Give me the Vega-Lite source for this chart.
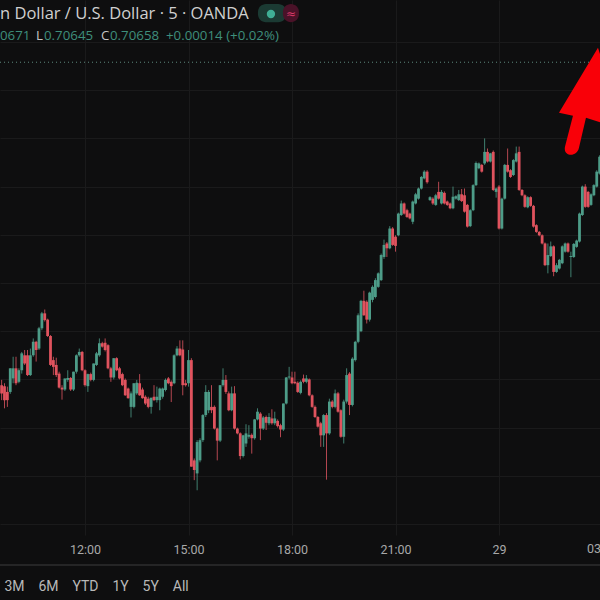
{"$schema":"https://vega.github.io/schema/vega-lite/v6.json","width":600,"height":535,"autosize":"none","padding":{"left":0,"top":0,"right":0,"bottom":65},"background":"#0e0e0f","config":{"view":{"stroke":null}},
"datasets":{"candles":[
{"t":575,"o":0.69988,"h":0.69999,"l":0.69957,"c":0.69971},{"t":580,"o":0.69986,"h":0.69992,"l":0.69940,"c":0.69957},{"t":585,"o":0.69974,"h":0.69985,"l":0.69943,"c":0.69957},{"t":590,"o":0.69974,"h":0.70023,"l":0.69970,"c":0.70023},{"t":595,"o":0.70002,"h":0.70047,"l":0.69992,"c":0.70023},{"t":600,"o":0.70023,"h":0.70047,"l":0.69988,"c":0.69992},{"t":605,"o":0.69995,"h":0.70023,"l":0.69992,"c":0.70019},{"t":610,"o":0.70019,"h":0.70057,"l":0.70012,"c":0.70054},{"t":615,"o":0.70050,"h":0.70061,"l":0.70030,"c":0.70033},{"t":620,"o":0.70050,"h":0.70061,"l":0.70007,"c":0.70009},{"t":625,"o":0.70009,"h":0.70064,"l":0.70007,"c":0.70050},{"t":630,"o":0.70050,"h":0.70085,"l":0.70047,"c":0.70078},{"t":635,"o":0.70078,"h":0.70080,"l":0.70037,"c":0.70061},{"t":640,"o":0.70064,"h":0.70109,"l":0.70061,"c":0.70106},{"t":645,"o":0.70106,"h":0.70140,"l":0.70102,"c":0.70137},{"t":650,"o":0.70137,"h":0.70145,"l":0.70120,"c":0.70123},{"t":655,"o":0.70124,"h":0.70126,"l":0.70088,"c":0.70090},{"t":660,"o":0.70090,"h":0.70092,"l":0.70028,"c":0.70030},{"t":665,"o":0.70040,"h":0.70047,"l":0.70009,"c":0.70026},{"t":670,"o":0.70030,"h":0.70045,"l":0.70005,"c":0.70009},{"t":675,"o":0.70012,"h":0.70016,"l":0.69981,"c":0.69983},{"t":680,"o":0.69983,"h":0.69988,"l":0.69958,"c":0.69979},{"t":685,"o":0.69979,"h":0.70002,"l":0.69976,"c":0.70002},{"t":690,"o":0.69999,"h":0.70019,"l":0.69995,"c":0.70003},{"t":695,"o":0.70003,"h":0.70005,"l":0.69976,"c":0.69979},{"t":700,"o":0.69979,"h":0.70016,"l":0.69976,"c":0.70016},{"t":705,"o":0.70016,"h":0.70052,"l":0.70012,"c":0.70050},{"t":710,"o":0.70050,"h":0.70064,"l":0.70047,"c":0.70057},{"t":715,"o":0.70057,"h":0.70059,"l":0.70017,"c":0.70019},{"t":720,"o":0.70019,"h":0.70021,"l":0.69985,"c":0.69988},
{"t":725,"o":0.69986,"h":0.70012,"l":0.69974,"c":0.70011},{"t":730,"o":0.70011,"h":0.70014,"l":0.69996,"c":0.69999},{"t":735,"o":0.69999,"h":0.70033,"l":0.69996,"c":0.70033},{"t":740,"o":0.70030,"h":0.70057,"l":0.70028,"c":0.70054},{"t":745,"o":0.70050,"h":0.70085,"l":0.70047,"c":0.70075},{"t":750,"o":0.70075,"h":0.70078,"l":0.70066,"c":0.70068},{"t":755,"o":0.70076,"h":0.70085,"l":0.70058,"c":0.70061},{"t":760,"o":0.70071,"h":0.70073,"l":0.70021,"c":0.70023},{"t":765,"o":0.70023,"h":0.70026,"l":0.69995,"c":0.70004},{"t":770,"o":0.70004,"h":0.70044,"l":0.70000,"c":0.70044},{"t":775,"o":0.70044,"h":0.70046,"l":0.70017,"c":0.70019},{"t":780,"o":0.70023,"h":0.70026,"l":0.70000,"c":0.70002},{"t":785,"o":0.70011,"h":0.70014,"l":0.69986,"c":0.69988},{"t":790,"o":0.69999,"h":0.70002,"l":0.69966,"c":0.69967},{"t":795,"o":0.69981,"h":0.69983,"l":0.69960,"c":0.69961},{"t":800,"o":0.69943,"h":0.69975,"l":0.69921,"c":0.69971},{"t":805,"o":0.69943,"h":0.69992,"l":0.69940,"c":0.69992},{"t":810,"o":0.69971,"h":0.69999,"l":0.69968,"c":0.69993},{"t":815,"o":0.69992,"h":0.70011,"l":0.69966,"c":0.69967},{"t":820,"o":0.69979,"h":0.69983,"l":0.69960,"c":0.69961},{"t":825,"o":0.69964,"h":0.69967,"l":0.69947,"c":0.69950},{"t":830,"o":0.69960,"h":0.69964,"l":0.69940,"c":0.69943},{"t":835,"o":0.69943,"h":0.69962,"l":0.69929,"c":0.69962},{"t":840,"o":0.69964,"h":0.69988,"l":0.69955,"c":0.69957},{"t":845,"o":0.69957,"h":0.69985,"l":0.69952,"c":0.69964},{"t":850,"o":0.69957,"h":0.69983,"l":0.69936,"c":0.69981},{"t":855,"o":0.69964,"h":0.69983,"l":0.69960,"c":0.69981},{"t":860,"o":0.69978,"h":0.70002,"l":0.69975,"c":0.69999},{"t":865,"o":0.70002,"h":0.70005,"l":0.69990,"c":0.69992},{"t":870,"o":0.69995,"h":0.69998,"l":0.69953,"c":0.69986},
{"t":875,"o":0.69992,"h":0.70052,"l":0.69990,"c":0.70050},{"t":880,"o":0.70050,"h":0.70069,"l":0.70048,"c":0.70064},{"t":885,"o":0.70064,"h":0.70081,"l":0.70048,"c":0.70050},{"t":890,"o":0.70062,"h":0.70081,"l":0.69967,"c":0.69988},{"t":895,"o":0.69992,"h":0.69999,"l":0.69985,"c":0.69988},{"t":900,"o":0.69992,"h":0.70061,"l":0.69985,"c":0.70040},{"t":905,"o":0.70040,"h":0.70044,"l":0.69819,"c":0.69819},{"t":910,"o":0.69832,"h":0.69836,"l":0.69791,"c":0.69812},{"t":915,"o":0.69805,"h":0.69874,"l":0.69770,"c":0.69870},{"t":920,"o":0.69832,"h":0.69878,"l":0.69828,"c":0.69874},{"t":925,"o":0.69874,"h":0.69928,"l":0.69870,"c":0.69926},{"t":930,"o":0.69926,"h":0.69988,"l":0.69922,"c":0.69974},{"t":935,"o":0.69936,"h":0.69978,"l":0.69930,"c":0.69974},{"t":940,"o":0.69943,"h":0.69988,"l":0.69930,"c":0.69936},{"t":945,"o":0.69943,"h":0.69946,"l":0.69896,"c":0.69898},{"t":950,"o":0.69898,"h":0.69900,"l":0.69832,"c":0.69873},{"t":955,"o":0.69873,"h":0.69988,"l":0.69870,"c":0.69988},{"t":960,"o":0.69988,"h":0.70023,"l":0.69985,"c":0.69999},{"t":965,"o":0.69999,"h":0.70009,"l":0.69970,"c":0.69974},{"t":970,"o":0.69971,"h":0.69975,"l":0.69934,"c":0.69936},{"t":975,"o":0.69936,"h":0.69985,"l":0.69934,"c":0.69971},{"t":980,"o":0.69971,"h":0.69986,"l":0.69896,"c":0.69898},{"t":985,"o":0.69898,"h":0.69900,"l":0.69886,"c":0.69888},{"t":990,"o":0.69888,"h":0.69890,"l":0.69834,"c":0.69841},{"t":995,"o":0.69841,"h":0.69885,"l":0.69838,"c":0.69884},{"t":1000,"o":0.69867,"h":0.69907,"l":0.69860,"c":0.69888},{"t":1005,"o":0.69881,"h":0.69905,"l":0.69877,"c":0.69885},{"t":1010,"o":0.69885,"h":0.69888,"l":0.69846,"c":0.69878},{"t":1015,"o":0.69878,"h":0.69918,"l":0.69875,"c":0.69917},{"t":1020,"o":0.69917,"h":0.69940,"l":0.69915,"c":0.69933},
{"t":1025,"o":0.69929,"h":0.69932,"l":0.69874,"c":0.69898},{"t":1030,"o":0.69898,"h":0.69924,"l":0.69895,"c":0.69921},{"t":1035,"o":0.69922,"h":0.69925,"l":0.69895,"c":0.69910},{"t":1040,"o":0.69909,"h":0.69930,"l":0.69905,"c":0.69922},{"t":1045,"o":0.69919,"h":0.69938,"l":0.69906,"c":0.69909},{"t":1050,"o":0.69909,"h":0.69933,"l":0.69905,"c":0.69919},{"t":1055,"o":0.69914,"h":0.69917,"l":0.69900,"c":0.69903},{"t":1060,"o":0.69905,"h":0.69908,"l":0.69880,"c":0.69896},{"t":1065,"o":0.69896,"h":0.69950,"l":0.69893,"c":0.69950},{"t":1070,"o":0.69950,"h":0.70005,"l":0.69948,"c":0.70004},{"t":1075,"o":0.70004,"h":0.70026,"l":0.70000,"c":0.70006},{"t":1080,"o":0.70004,"h":0.70016,"l":0.69990,"c":0.69992},{"t":1085,"o":0.69995,"h":0.70016,"l":0.69990,"c":0.69992},{"t":1090,"o":0.69993,"h":0.69996,"l":0.69972,"c":0.69974},{"t":1095,"o":0.69972,"h":0.69998,"l":0.69969,"c":0.69995},{"t":1100,"o":0.70002,"h":0.70010,"l":0.69992,"c":0.69995},{"t":1105,"o":0.69995,"h":0.70009,"l":0.69992,"c":0.70002},{"t":1110,"o":0.70000,"h":0.70002,"l":0.69965,"c":0.69967},{"t":1115,"o":0.69967,"h":0.69969,"l":0.69941,"c":0.69943},{"t":1120,"o":0.69943,"h":0.69946,"l":0.69920,"c":0.69922},{"t":1125,"o":0.69922,"h":0.69924,"l":0.69900,"c":0.69902},{"t":1130,"o":0.69909,"h":0.69912,"l":0.69860,"c":0.69884},{"t":1135,"o":0.69884,"h":0.69928,"l":0.69860,"c":0.69926},{"t":1140,"o":0.69926,"h":0.69930,"l":0.69792,"c":0.69888},{"t":1145,"o":0.69888,"h":0.69960,"l":0.69885,"c":0.69954},{"t":1150,"o":0.69954,"h":0.69957,"l":0.69940,"c":0.69943},{"t":1155,"o":0.69943,"h":0.69979,"l":0.69940,"c":0.69971},{"t":1160,"o":0.69971,"h":0.69974,"l":0.69931,"c":0.69933},{"t":1165,"o":0.69936,"h":0.69938,"l":0.69879,"c":0.69881},{"t":1170,"o":0.69881,"h":0.69958,"l":0.69867,"c":0.69954},
{"t":1175,"o":0.69954,"h":0.70023,"l":0.69950,"c":0.70009},{"t":1180,"o":0.70012,"h":0.70015,"l":0.69926,"c":0.69947},{"t":1185,"o":0.69947,"h":0.70046,"l":0.69944,"c":0.70043},{"t":1190,"o":0.70040,"h":0.70080,"l":0.70037,"c":0.70078},{"t":1195,"o":0.70078,"h":0.70137,"l":0.70075,"c":0.70133},{"t":1200,"o":0.70100,"h":0.70165,"l":0.70098,"c":0.70163},{"t":1205,"o":0.70163,"h":0.70184,"l":0.70132,"c":0.70133},{"t":1210,"o":0.70161,"h":0.70164,"l":0.70116,"c":0.70124},{"t":1215,"o":0.70124,"h":0.70182,"l":0.70120,"c":0.70180},{"t":1220,"o":0.70165,"h":0.70195,"l":0.70160,"c":0.70192},{"t":1225,"o":0.70171,"h":0.70210,"l":0.70168,"c":0.70206},{"t":1230,"o":0.70192,"h":0.70222,"l":0.70190,"c":0.70220},{"t":1235,"o":0.70206,"h":0.70261,"l":0.70204,"c":0.70258},{"t":1240,"o":0.70254,"h":0.70290,"l":0.70250,"c":0.70279},{"t":1245,"o":0.70282,"h":0.70285,"l":0.70254,"c":0.70272},{"t":1250,"o":0.70272,"h":0.70318,"l":0.70270,"c":0.70313},{"t":1255,"o":0.70313,"h":0.70316,"l":0.70277,"c":0.70279},{"t":1260,"o":0.70296,"h":0.70299,"l":0.70265,"c":0.70277},{"t":1265,"o":0.70299,"h":0.70346,"l":0.70297,"c":0.70344},{"t":1270,"o":0.70341,"h":0.70371,"l":0.70339,"c":0.70365},{"t":1275,"o":0.70365,"h":0.70367,"l":0.70342,"c":0.70344},{"t":1280,"o":0.70351,"h":0.70354,"l":0.70335,"c":0.70337},{"t":1285,"o":0.70344,"h":0.70346,"l":0.70332,"c":0.70334},{"t":1290,"o":0.70327,"h":0.70371,"l":0.70322,"c":0.70369},{"t":1295,"o":0.70365,"h":0.70387,"l":0.70363,"c":0.70384},{"t":1300,"o":0.70375,"h":0.70398,"l":0.70373,"c":0.70396},{"t":1305,"o":0.70396,"h":0.70422,"l":0.70394,"c":0.70420},{"t":1310,"o":0.70417,"h":0.70434,"l":0.70415,"c":0.70431},{"t":1315,"o":0.70431,"h":0.70434,"l":0.70406,"c":0.70409},{"t":1320,"o":0.70372,"h":0.70380,"l":0.70370,"c":0.70378},
{"t":1325,"o":0.70375,"h":0.70378,"l":0.70362,"c":0.70365},{"t":1330,"o":0.70362,"h":0.70385,"l":0.70360,"c":0.70382},{"t":1335,"o":0.70389,"h":0.70410,"l":0.70373,"c":0.70375},{"t":1340,"o":0.70365,"h":0.70393,"l":0.70363,"c":0.70389},{"t":1345,"o":0.70387,"h":0.70390,"l":0.70363,"c":0.70365},{"t":1350,"o":0.70369,"h":0.70371,"l":0.70360,"c":0.70362},{"t":1355,"o":0.70365,"h":0.70367,"l":0.70353,"c":0.70355},{"t":1360,"o":0.70355,"h":0.70400,"l":0.70353,"c":0.70379},{"t":1365,"o":0.70375,"h":0.70382,"l":0.70373,"c":0.70380},{"t":1370,"o":0.70372,"h":0.70393,"l":0.70370,"c":0.70384},{"t":1375,"o":0.70384,"h":0.70395,"l":0.70368,"c":0.70370},{"t":1380,"o":0.70382,"h":0.70396,"l":0.70346,"c":0.70348},{"t":1385,"o":0.70362,"h":0.70364,"l":0.70315,"c":0.70317},{"t":1390,"o":0.70318,"h":0.70353,"l":0.70316,"c":0.70351},{"t":1395,"o":0.70351,"h":0.70405,"l":0.70349,"c":0.70403},{"t":1400,"o":0.70403,"h":0.70452,"l":0.70401,"c":0.70449},{"t":1405,"o":0.70438,"h":0.70450,"l":0.70436,"c":0.70448},{"t":1410,"o":0.70445,"h":0.70447,"l":0.70429,"c":0.70431},{"t":1415,"o":0.70448,"h":0.70500,"l":0.70445,"c":0.70472},{"t":1420,"o":0.70472,"h":0.70479,"l":0.70450,"c":0.70452},{"t":1425,"o":0.70452,"h":0.70470,"l":0.70450,"c":0.70469},{"t":1430,"o":0.70472,"h":0.70475,"l":0.70391,"c":0.70393},{"t":1435,"o":0.70389,"h":0.70398,"l":0.70377,"c":0.70396},{"t":1440,"o":0.70400,"h":0.70403,"l":0.70311,"c":0.70313},{"t":1445,"o":0.70313,"h":0.70377,"l":0.70311,"c":0.70375},{"t":1450,"o":0.70375,"h":0.70447,"l":0.70373,"c":0.70445},{"t":1455,"o":0.70445,"h":0.70479,"l":0.70429,"c":0.70431},{"t":1460,"o":0.70434,"h":0.70436,"l":0.70418,"c":0.70420},{"t":1465,"o":0.70424,"h":0.70457,"l":0.70422,"c":0.70455},{"t":1470,"o":0.70452,"h":0.70483,"l":0.70450,"c":0.70469},
{"t":1475,"o":0.70472,"h":0.70483,"l":0.70391,"c":0.70393},{"t":1480,"o":0.70393,"h":0.70395,"l":0.70380,"c":0.70382},{"t":1485,"o":0.70382,"h":0.70384,"l":0.70356,"c":0.70358},{"t":1490,"o":0.70357,"h":0.70380,"l":0.70355,"c":0.70378},{"t":1495,"o":0.70378,"h":0.70380,"l":0.70358,"c":0.70360},{"t":1500,"o":0.70360,"h":0.70362,"l":0.70315,"c":0.70317},{"t":1505,"o":0.70320,"h":0.70322,"l":0.70304,"c":0.70306},{"t":1510,"o":0.70306,"h":0.70308,"l":0.70297,"c":0.70299},{"t":1515,"o":0.70299,"h":0.70301,"l":0.70280,"c":0.70282},{"t":1520,"o":0.70282,"h":0.70284,"l":0.70235,"c":0.70237},{"t":1525,"o":0.70237,"h":0.70282,"l":0.70220,"c":0.70258},{"t":1530,"o":0.70256,"h":0.70286,"l":0.70254,"c":0.70276},{"t":1535,"o":0.70276,"h":0.70278,"l":0.70214,"c":0.70223},{"t":1540,"o":0.70223,"h":0.70241,"l":0.70221,"c":0.70237},{"t":1545,"o":0.70230,"h":0.70250,"l":0.70228,"c":0.70248},{"t":1550,"o":0.70241,"h":0.70278,"l":0.70239,"c":0.70276},{"t":1555,"o":0.70265,"h":0.70284,"l":0.70263,"c":0.70282},{"t":1560,"o":0.70282,"h":0.70284,"l":0.70263,"c":0.70265},{"t":1565,"o":0.70254,"h":0.70265,"l":0.70212,"c":0.70256},{"t":1570,"o":0.70254,"h":0.70283,"l":0.70252,"c":0.70281},{"t":1575,"o":0.70275,"h":0.70290,"l":0.70273,"c":0.70288},{"t":1580,"o":0.70286,"h":0.70346,"l":0.70284,"c":0.70344},{"t":1585,"o":0.70341,"h":0.70402,"l":0.70339,"c":0.70400},{"t":1590,"o":0.70400,"h":0.70405,"l":0.70356,"c":0.70358},{"t":1595,"o":0.70389,"h":0.70391,"l":0.70356,"c":0.70358},{"t":1600,"o":0.70362,"h":0.70386,"l":0.70360,"c":0.70384},{"t":1605,"o":0.70382,"h":0.70405,"l":0.70380,"c":0.70403},{"t":1610,"o":0.70400,"h":0.70434,"l":0.70398,"c":0.70431},{"t":1615,"o":0.70427,"h":0.70465,"l":0.70425,"c":0.70462}
]},
"data":{"name":"candles"},
"layer":[
{"mark":{"type":"rule","opacity":0},"encoding":{"x":{"field":"t","type":"quantitative","scale":{"domain":[572.17,1615.65],"nice":false,"zero":false,"padding":0},"axis":{"values":[720,900,1080,1260,1440],"labelExpr":"datum.value==720?'12:00':datum.value==900?'15:00':datum.value==1080?'18:00':datum.value==1260?'21:00':'29'","labelOverlap":false,"labelFlush":false,"labelBound":false,"domain":false,"ticks":false,"grid":true,"gridColor":"#1a1a1b","gridWidth":1,"labelColor":"#a8a8a8","labelFont":"Roboto","labelFontSize":12.5,"labelPadding":8,"title":"3M\u00a0\u00a0\u00a0\u00a06M\u00a0\u00a0\u00a0\u00a0YTD\u00a0\u00a0\u00a0\u00a01Y\u00a0\u00a0\u00a0\u00a05Y\u00a0\u00a0\u00a0\u00a0All","titleFont":"Roboto","titleFontSize":14,"titleFontWeight":"normal","titleColor":"#b8b8b8","titleAlign":"left","titleAnchor":"start","titleBaseline":"middle","titleX":4,"titleY":51}},"y":{"field":"c","type":"quantitative","scale":{"domain":[0.696772,0.707871],"nice":false,"zero":false,"padding":0},"axis":{"values":[0.697,0.698,0.699,0.700,0.701,0.702,0.703,0.704,0.705,0.706,0.707],"labels":false,"domain":false,"ticks":false,"grid":true,"gridColor":"#1a1a1b","gridWidth":1,"title":null}}}},
{"mark":{"type":"rule","color":"#252526","strokeWidth":2},"data":{"values":[{"line":"separator"}]},"encoding":{"x":{"datum":572.17},"x2":{"datum":1615.65},"y":{"datum":0.69615}}},
{"mark":{"type":"rule","color":"#5f8a7e","strokeWidth":1,"strokeDash":[1,3]},"data":{"values":[{"line":"last close"}]},"encoding":{"x":{"datum":572.17},"x2":{"datum":1615.65},"y":{"datum":0.70658}}},
{"mark":{"type":"rule","strokeWidth":1,"opacity":0.8},"encoding":{"x":{"field":"t","type":"quantitative"},"y":{"field":"h","type":"quantitative"},"y2":{"field":"l"},"color":{"condition":{"test":"datum.c>=datum.o","value":"#4d9c88"},"value":"#dd5560"}}},
{"mark":{"type":"bar","width":2.8},"encoding":{"x":{"field":"t","type":"quantitative"},"y":{"field":"o","type":"quantitative"},"y2":{"field":"c"},"color":{"condition":{"test":"datum.c>=datum.o","value":"#4d9c88"},"value":"#e0535e"}}},
{"mark":{"type":"text","align":"center","baseline":"middle","font":"Roboto","fontSize":12.5,"color":"#a8a8a8","text":"03:00"},"data":{"values":[{"item":"time label"}]},"encoding":{"x":{"datum":1620},"y":{"datum":0.69648}}},
{"mark":{"type":"text","align":"left","baseline":"middle","font":"Open Sans","fontSize":16.5,"color":"#d0d0d0","text":"n Dollar / U.S. Dollar · 5 · OANDA"},"data":{"values":[{"item":"title"}]},"encoding":{"x":{"datum":572.17},"y":{"datum":0.70758}}},
{"mark":{"type":"rect","color":"#1b3a33","cornerRadius":8},"data":{"values":[{"item":"status"}]},"encoding":{"x":{"datum":1020.8},"x2":{"datum":1070},"y":{"datum":0.70779},"y2":{"datum":0.70741}}},
{"mark":{"type":"rect","color":"#4a1228","cornerRadius":8},"data":{"values":[{"item":"status"}]},"encoding":{"x":{"datum":1064.3},"x2":{"datum":1092},"y":{"datum":0.70779},"y2":{"datum":0.70741}}},
{"mark":{"type":"point","filled":true,"size":70,"color":"#3fae95","opacity":1},"data":{"values":[{"item":"dot"}]},"encoding":{"x":{"datum":1043.4},"y":{"datum":0.70758}}},
{"mark":{"type":"text","align":"center","baseline":"middle","font":"DejaVu Sans","fontSize":12,"color":"#d93a68","text":"≈"},"data":{"values":[{"item":"market"}]},"encoding":{"x":{"datum":1078.2},"y":{"datum":0.70758}}},
{"mark":{"type":"text","align":"left","baseline":"middle","font":"Open Sans","fontSize":13.3,"color":"#3f8f7c","text":"0671"},"data":{"values":[{"item":"h"}]},"encoding":{"x":{"datum":572.17},"y":{"datum":0.70712}}},
{"mark":{"type":"text","align":"left","baseline":"middle","font":"Open Sans","fontSize":13.3,"color":"#c4c4c4","text":"L"},"data":{"values":[{"item":"l"}]},"encoding":{"x":{"datum":634.8},"y":{"datum":0.70712}}},
{"mark":{"type":"text","align":"left","baseline":"middle","font":"Open Sans","fontSize":13.3,"color":"#3f8f7c","text":"0.70645"},"data":{"values":[{"item":"l"}]},"encoding":{"x":{"datum":648.7},"y":{"datum":0.70712}}},
{"mark":{"type":"text","align":"left","baseline":"middle","font":"Open Sans","fontSize":13.3,"color":"#c4c4c4","text":"C"},"data":{"values":[{"item":"c"}]},"encoding":{"x":{"datum":747.8},"y":{"datum":0.70712}}},
{"mark":{"type":"text","align":"left","baseline":"middle","font":"Open Sans","fontSize":13.3,"color":"#3f8f7c","text":"0.70658"},"data":{"values":[{"item":"c"}]},"encoding":{"x":{"datum":763.5},"y":{"datum":0.70712}}},
{"mark":{"type":"text","align":"left","baseline":"middle","font":"Open Sans","fontSize":13.3,"color":"#3f8f7c","text":"+0.00014 (+0.02%)"},"data":{"values":[{"item":"change"}]},"encoding":{"x":{"datum":860.8},"y":{"datum":0.70712}}},
{"mark":{"type":"point","filled":true,"opacity":1,"color":"#f90008","size":10000,"shape":"M0.16 -1.04 L-0.62 0.26 L-0.34 0.32 L-0.5 0.94 C-0.54 1.14 -0.26 1.16 -0.22 0.96 L-0.08 0.36 L0.7 0.6 Z"},"data":{"values":[{"item":"arrow"}]},"encoding":{"x":{"datum":1598.2},"y":{"datum":0.7058}}}
]}
